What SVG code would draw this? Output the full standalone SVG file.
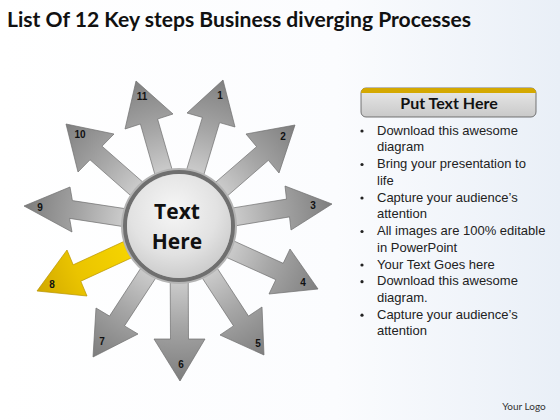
<svg xmlns="http://www.w3.org/2000/svg" width="560" height="420" viewBox="0 0 560 420">
<defs>
<linearGradient id="bg" x1="0" y1="0" x2="1" y2="0">
<stop offset="0" stop-color="#ffffff"/><stop offset="0.6" stop-color="#fbfcfe"/><stop offset="1" stop-color="#e9eff7"/>
</linearGradient>
<radialGradient id="gArrow" gradientUnits="userSpaceOnUse" cx="179" cy="226" r="160">
<stop offset="0.3" stop-color="#d2d2d2"/><stop offset="0.62" stop-color="#a6a6a6"/><stop offset="1" stop-color="#7a7a7a"/>
</radialGradient>
<radialGradient id="yArrow" gradientUnits="userSpaceOnUse" cx="179" cy="226" r="160">
<stop offset="0.3" stop-color="#f7d600"/><stop offset="0.7" stop-color="#eac400"/><stop offset="1" stop-color="#cfa600"/>
</radialGradient>
<radialGradient id="inner" cx="0.45" cy="0.35" r="0.7">
<stop offset="0" stop-color="#f6f6f6"/><stop offset="0.6" stop-color="#e2e2e2"/><stop offset="1" stop-color="#c8c8c8"/>
</radialGradient>
<linearGradient id="hdr" x1="0" y1="0" x2="0" y2="1">
<stop offset="0" stop-color="#e9e9e9"/><stop offset="1" stop-color="#c9c9c9"/>
</linearGradient>
</defs>
<style>
.arr{fill:url(#gArrow);stroke:#6e6e6e;stroke-width:0.7;stroke-linejoin:round}
.yel{fill:url(#yArrow);stroke:#b89400;stroke-width:0.7;stroke-linejoin:round}
.num{font-family:"Liberation Sans",Arial,sans-serif;font-size:10px;font-weight:bold;fill:#111;text-anchor:middle}
.title{font-family:Lato,"Liberation Sans",sans-serif;font-size:21px;font-weight:bold;fill:#111}
.bul{font-family:"Liberation Sans",Arial,sans-serif;font-size:13px;fill:#222}
.dot{fill:#222}
</style>
<rect width="560" height="420" fill="url(#bg)"/>
<text class="title" x="7" y="27" textLength="464" lengthAdjust="spacingAndGlyphs">List Of 12 Key steps Business diverging Processes</text>

<g id="connectors"/>

<g id="arrow1"><polygon class="arr" points="170.4,223.4 202.4,117.4 187,113 223,80 235,127 219.6,122.6 187.6,228.6"/><text class="num" x="220" y="99">1</text></g>
<g id="arrow2"><polygon class="arr" points="173.1,219.2 256.6,146.7 246,134 295,125 279,173 268.4,160.3 184.9,232.8"/><text class="num" x="283" y="140">2</text></g>
<g id="arrow3"><polygon class="arr" points="177.5,217.1 286.5,199.1 285,186 332,204 291,230 289.5,216.9 180.5,234.9"/><text class="num" x="313" y="209">3</text></g>
<g id="arrow4"><polygon class="arr" points="182.7,217.8 283.2,263.3 290,249 318,289 269,294 275.8,279.7 175.3,234.2"/><text class="num" x="303" y="286">4</text></g>
<g id="arrow5"><polygon class="arr" points="186.5,221.1 248.5,316.1 262,307 264,355 220,335 233.5,325.9 171.5,230.9"/><text class="num" x="258" y="347">5</text></g>
<g id="arrow6"><polygon class="arr" points="188,226 188.5,339 205,339 180,381 154,339 170.5,339 170,226"/><text class="num" x="181" y="368">6</text></g>
<g id="arrow7"><polygon class="arr" points="186.5,230.9 124.5,325.9 138,334 93,357 96,308 109.5,316.1 171.5,221.1"/><text class="num" x="102" y="345">7</text></g>
<g id="arrow8"><polygon class="yel" points="182.8,234.2 80.8,281.2 87,296 37,291 67,250 73.2,264.8 175.2,217.8"/><text class="num" x="52" y="288">8</text></g>
<g id="arrow9"><polygon class="arr" points="177.6,234.9 69.6,218.4 72,232 24,206 70,187 72.4,200.6 180.4,217.1"/><text class="num" x="40" y="211">9</text></g>
<g id="arrow10"><polygon class="arr" points="173,232.8 90,159.8 78,172 66,124 114,134 102,146.2 185,219.2"/><text class="num" x="80" y="138">10</text></g>
<g id="arrow11"><polygon class="arr" points="170.4,228.5 140.4,124 125,129 136,81 173,114 157.6,119 187.6,223.5"/><text class="num" x="142" y="100">11</text></g>

<g id="center">
<circle cx="179" cy="226" r="58" fill="#b4b4b4"/>
<circle cx="179" cy="226" r="54" fill="none" stroke="#6f6f6f" stroke-width="4"/>
<circle cx="179" cy="226" r="52" fill="url(#inner)"/>
<text x="177" y="219" text-anchor="middle" font-family="Open Sans,'Liberation Sans',sans-serif" font-size="21" font-weight="bold" fill="#111">Text</text>
<text x="177" y="249" text-anchor="middle" font-family="Open Sans,'Liberation Sans',sans-serif" font-size="21" font-weight="bold" fill="#111">Here</text>
</g>

<g id="panel">
<rect x="361" y="88" width="175" height="29" rx="5" fill="url(#hdr)" stroke="#555" stroke-width="0.8"/>
<path d="M366,88 H531 Q536,88 536,93 H361 Q361,88 366,88 Z" fill="#d4a800"/>
<text x="449" y="109" text-anchor="middle" font-family="Lato,'Liberation Sans',sans-serif" font-size="16" font-weight="bold" fill="#111">Put Text Here</text>
<g class="bul">
<circle class="dot" cx="362" cy="131" r="1.6"/><text x="377" y="134.5">Download this awesome</text>
<text x="377" y="151.2">diagram</text>
<circle class="dot" cx="362" cy="164.5" r="1.6"/><text x="377" y="168">Bring your presentation to</text>
<text x="377" y="184.7">life</text>
<circle class="dot" cx="362" cy="198" r="1.6"/><text x="377" y="201.5">Capture your audience’s</text>
<text x="377" y="218.2">attention</text>
<circle class="dot" cx="362" cy="231.5" r="1.6"/><text x="377" y="235">All images are 100% editable</text>
<text x="377" y="251.7">in PowerPoint</text>
<circle class="dot" cx="362" cy="265" r="1.6"/><text x="377" y="268.5">Your Text Goes here</text>
<circle class="dot" cx="362" cy="281.7" r="1.6"/><text x="377" y="285.2">Download this awesome</text>
<text x="377" y="301.9">diagram.</text>
<circle class="dot" cx="362" cy="315.2" r="1.6"/><text x="377" y="318.7">Capture your audience’s</text>
<text x="377" y="335.4">attention</text>
</g>
</g>
<text x="524" y="410" text-anchor="middle" font-family="Lato,'Liberation Sans',sans-serif" font-size="10" fill="#333">Your Logo</text>
</svg>
